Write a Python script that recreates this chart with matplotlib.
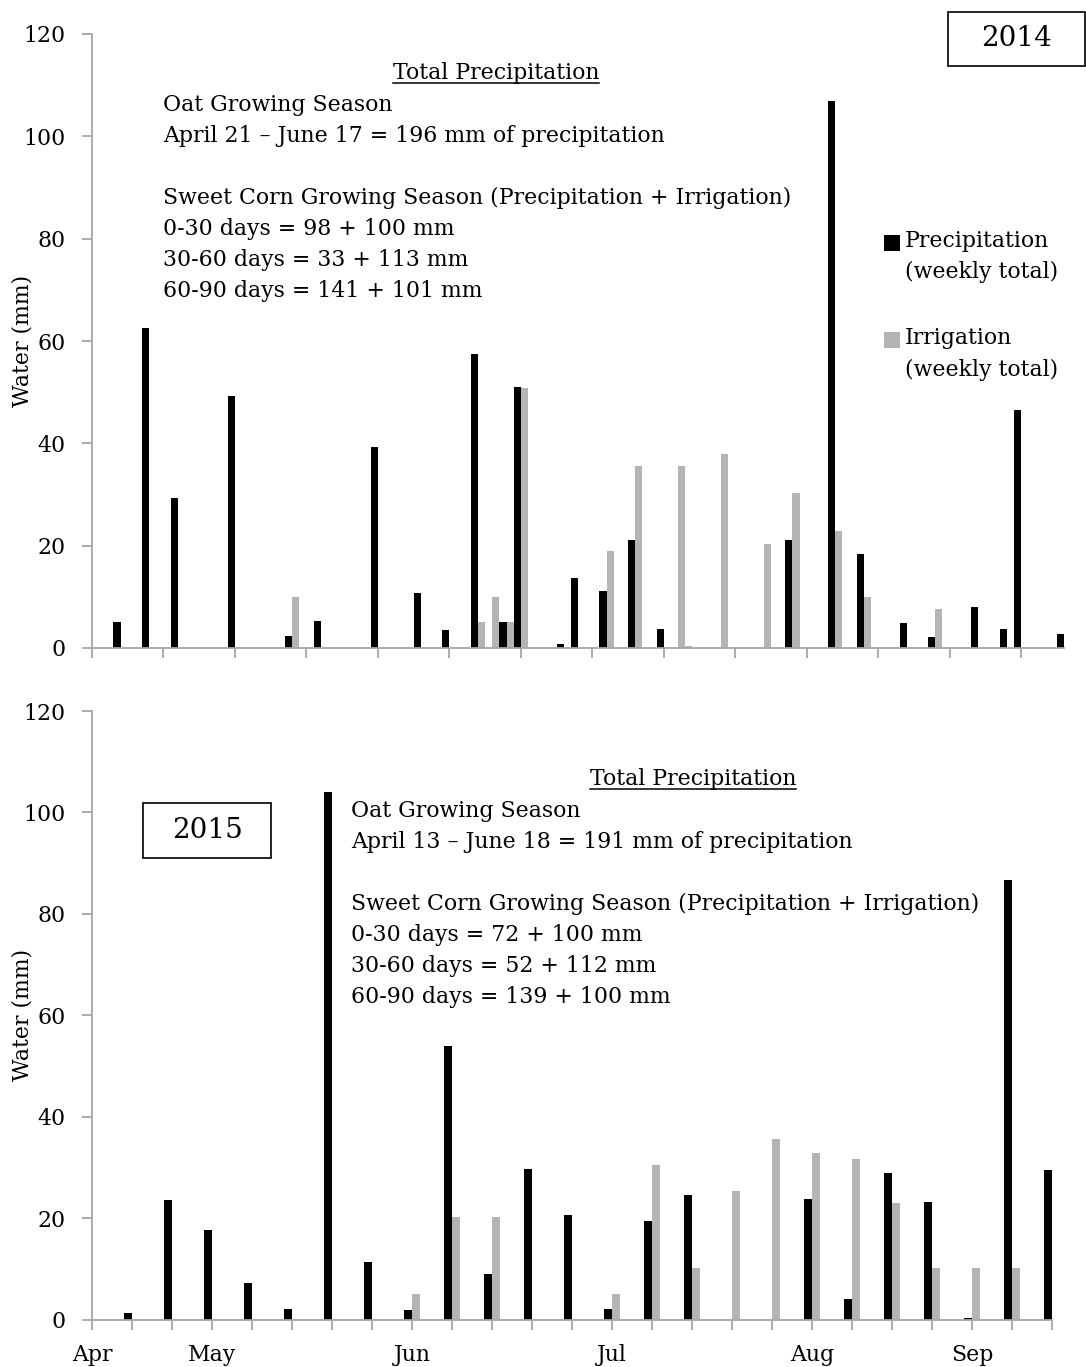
import matplotlib
matplotlib.use('Agg')
import matplotlib.pyplot as plt
from matplotlib.patches import Rectangle
from matplotlib.lines import Line2D
from matplotlib.container import BarContainer
from matplotlib.legend_handler import HandlerPatch, update_from_first_child

# 2014 - positions in half-week steps along the axis
precip_2014_x = [2, 4, 6, 10, 14, 16, 20, 23, 25, 27, 29, 30, 33, 34, 36, 38, 40,
                 49, 52, 54, 57, 59, 62, 64, 65, 68]
precip_2014 = [5.0, 62.6, 29.4, 49.3, 2.4, 5.2, 39.3, 10.8, 3.6, 57.4, 5.0, 51.1, 0.7,
               13.6, 11.1, 21.2, 3.7, 21.2, 107.0, 18.3, 4.9, 2.1, 8.0, 3.7, 46.6, 2.7]
irrig_2014_x = [14, 27, 28, 29, 30, 36, 38, 41, 41.5, 44, 47, 49, 52, 54, 59]
irrig_2014 = [10.0, 5.0, 10.0, 5.0, 50.8, 19.0, 35.5, 35.5, 0.4, 38.0, 20.3, 30.3,
              22.8, 10.0, 7.6]

# 2015 - weekly, weeks 1..24
weeks_2015 = list(range(1, 25))
precip_2015 = [1.2, 23.6, 17.7, 7.1, 2.0, 104.0, 11.4, 1.8, 53.9, 8.9, 29.6, 20.6,
               2.0, 19.4, 24.6, 0, 0, 23.7, 4.0, 28.9, 23.1, 0.3, 86.6, 29.4]
irrig_2015 = [0, 0, 0, 0, 0, 0, 0, 5.0, 20.3, 20.3, 0, 0,
              5.0, 30.4, 10.1, 25.4, 35.6, 32.9, 31.7, 22.9, 10.1, 10.1, 10.1, 0]

month_pos = [0, 3, 8, 13, 18, 22]
month_labels = ['Apr', 'May', 'Jun', 'Jul', 'Aug', 'Sep']

text_2014 = ['Oat Growing Season',
             'April 21 \u2013 June 17 = 196 mm of precipitation',
             '',
             'Sweet Corn Growing Season (Precipitation + Irrigation)',
             '0-30 days = 98 + 100 mm',
             '30-60 days = 33 + 113 mm',
             '60-90 days = 141 + 101 mm']
text_2015 = ['Oat Growing Season',
             'April 13 \u2013 June 18 = 191 mm of precipitation',
             '',
             'Sweet Corn Growing Season (Precipitation + Irrigation)',
             '0-30 days = 72 + 100 mm',
             '30-60 days = 52 + 112 mm',
             '60-90 days = 139 + 100 mm']

W, H = 1086, 1367
BLACK = '#000000'
GRAY = '#b4b4b4'
AXC = '#a6a6a6'
FS = 15.8

plt.rcParams['font.family'] = ['DejaVu Serif']

def fx(x):
    return x / W

def fy(y):
    return 1 - y / H

# square legend marker next to the first line of a two-line label
def top_square(legend, orig_handle, xdescent, ydescent, width, height, fontsize):
    s = 0.72 * fontsize
    return Rectangle((-xdescent, -ydescent + height - s + 0.3 * fontsize), s, s)

fig = plt.figure(figsize=(W / 100, H / 100), dpi=100, facecolor='white')

def style(ax, width_px):
    for s in ['top', 'right']:
        ax.spines[s].set_visible(False)
    for s in ['left', 'bottom']:
        ax.spines[s].set_color(AXC)
        ax.spines[s].set_linewidth(1.3)
    ax.tick_params(axis='both', colors=AXC, labelcolor='black', labelsize=FS,
                   direction='out', length=7, width=1.3)
    ax.tick_params(axis='y', pad=12)
    ax.set_ylim(0, 120)
    ax.set_yticks(range(0, 121, 20))
    ax.set_ylabel('Water (mm)', fontsize=FS)
    ax.yaxis.set_label_coords((34 - 92) / width_px, 0.5)

# ---- 2014 ----
ax1 = fig.add_axes([fx(92), fy(648), fx(1064 - 92), (648 - 34) / H])
ax1.bar([p - 0.25 for p in precip_2014_x], precip_2014, width=0.5, color=BLACK,
        label='Precipitation\n(weekly total)')
ax1.bar([p + 0.25 for p in irrig_2014_x], irrig_2014, width=0.5, color=GRAY,
        label='Irrigation\n(weekly total)')
ax1.set_xlim(0, 68)
ax1.set_xticks(range(0, 66, 5))
ax1.set_xticklabels([])
style(ax1, 1064 - 92)
hp = HandlerPatch(patch_func=top_square, update_func=update_from_first_child)
leg = ax1.legend(loc='upper left', bbox_to_anchor=(fx(884), fy(230)), bbox_transform=fig.transFigure,
                 frameon=False, fontsize=FS, handlelength=0.75, handleheight=2.0,
                 handletextpad=0.2, labelspacing=2.0, borderaxespad=0, borderpad=0,
                 handler_map={BarContainer: hp})
for t in leg.get_texts():
    t.set_linespacing(1.55)

# ---- 2015 ----
ax2 = fig.add_axes([fx(92), fy(1319.5), fx(1052 - 92), (1319.5 - 711) / H])
ax2.bar([w - 0.1 for w in weeks_2015], precip_2015, width=0.2, color=BLACK)
ax2.bar([w + 0.1 for w in weeks_2015], irrig_2015, width=0.2, color=GRAY)
ax2.set_xlim(0, 24)
ax2.set_xticks(range(0, 25))
ax2.set_xticklabels([month_labels[month_pos.index(i)] if i in month_pos else ''
                     for i in range(0, 25)])
style(ax2, 1052 - 92)
ax2.tick_params(axis='x', pad=11)

# ---- text blocks ----
titles = []
for x0, ytitle, xtitle, lines in [(163, 79, 496, text_2014), (351, 785, 693, text_2015)]:
    t = fig.text(fx(xtitle), fy(ytitle), 'Total Precipitation', fontsize=FS,
                 ha='center', va='baseline')
    titles.append(t)
    for i, line in enumerate(lines):
        if line:
            fig.text(fx(x0), fy(ytitle + 31.5 + i * 31.1), line, fontsize=FS,
                     ha='left', va='baseline')

# year boxes
for (x0, y0, x1, y1, label) in [(948, 12, 1085, 66, '2014'), (143, 803, 271, 858, '2015')]:
    fig.add_artist(Rectangle((fx(x0), fy(y1)), fx(x1 - x0), (y1 - y0) / H,
                             transform=fig.transFigure, fill=False, edgecolor='black', lw=1.2))
    fig.text(fx((x0 + x1) / 2), fy((y0 + y1) / 2), label, fontsize=20,
             ha='center', va='center')

# underline the headings
fig.canvas.draw()
r = fig.canvas.get_renderer()
for t in titles:
    bb = t.get_window_extent(r)
    xs = [bb.x0 / fig.bbox.width, bb.x1 / fig.bbox.width]
    yl = (bb.y0 + 1) / fig.bbox.height
    fig.add_artist(Line2D(xs, [yl, yl], transform=fig.transFigure, color='black', lw=1.1))

fig.savefig('out.png', dpi=100, facecolor='white')
